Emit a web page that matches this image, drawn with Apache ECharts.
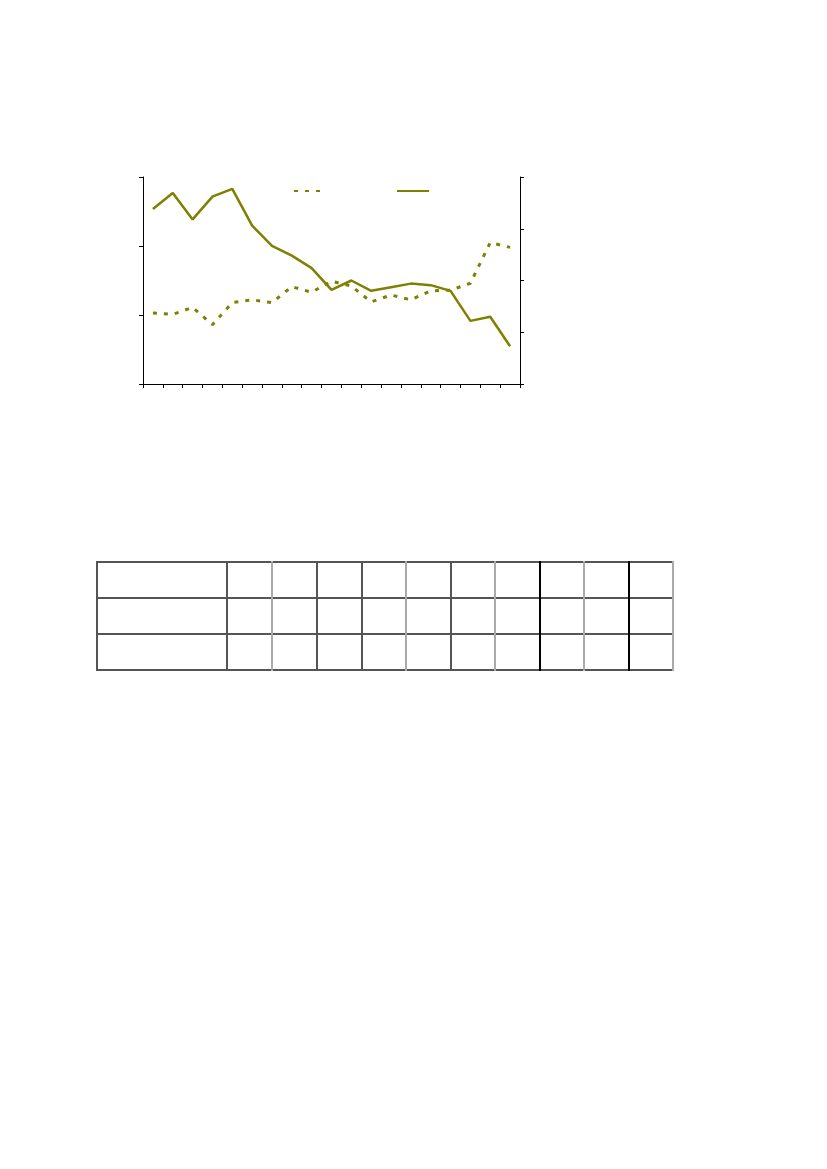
<!DOCTYPE html>
<html>
<head>
<meta charset="utf-8">
<script src="https://cdn.jsdelivr.net/npm/echarts@6/dist/echarts.min.js"></script>
<style>
  html, body { margin: 0; padding: 0; background: #fff; }
  #chart { position: absolute; left: 0; top: 0; width: 827px; height: 1169px; }
  .ln { position: absolute; }
</style>
</head>
<body>
<div id="chart"></div>
<div id="table"></div>
<script>
// 19 periods, no labels shown on the reference
var categories = ['1','2','3','4','5','6','7','8','9','10','11','12','13','14','15','16','17','18','19'];
// dotted series, left axis (0..3)
var dottedValues = [1.03, 1.01, 1.11, 0.86, 1.18, 1.22, 1.18, 1.41, 1.33, 1.49, 1.42, 1.19, 1.29, 1.22, 1.35, 1.36, 1.46, 2.05, 1.98];
// solid series, right axis (0..4)
var solidValues = [3.38, 3.69, 3.18, 3.62, 3.77, 3.06, 2.67, 2.48, 2.24, 1.82, 2.00, 1.80, 1.87, 1.94, 1.91, 1.80, 1.22, 1.30, 0.73];

var olive = '#808000';

var chart = echarts.init(document.getElementById('chart'), null, { renderer: 'canvas' });

var axisBase = {
  axisLine: { show: true, lineStyle: { color: '#000', width: 1 } },
  axisTick: { show: true, length: 4, lineStyle: { color: '#000', width: 1 } },
  axisLabel: { show: false },
  splitLine: { show: false }
};

var legendBase = {
  top: 185, itemWidth: 32, itemHeight: 12,
  itemStyle: { opacity: 0 },
  formatter: function () { return ''; }
};

chart.setOption({
  backgroundColor: '#fff',
  animation: false,
  grid: { left: 143, right: 307, top: 177, bottom: 785, containLabel: false },
  legend: [
    Object.assign({}, legendBase, { data: ['dotted'], left: 288, top: 180 }),
    Object.assign({}, legendBase, { data: ['solid'], left: 391, top: 180 })
  ],
  xAxis: Object.assign({}, axisBase, {
    type: 'category',
    data: categories,
    boundaryGap: true,
    axisTick: { show: true, length: 4, alignWithLabel: false, interval: 0, lineStyle: { color: '#000' } }
  }),
  yAxis: [
    Object.assign({}, axisBase, { type: 'value', min: 0, max: 3, interval: 1, position: 'left' }),
    Object.assign({}, axisBase, { type: 'value', min: 0, max: 4, interval: 1, position: 'right' })
  ],
  series: [
    {
      name: 'dotted',
      type: 'line',
      yAxisIndex: 0,
      data: dottedValues,
      symbol: 'none',
      itemStyle: { color: olive },
      lineStyle: { color: olive, width: 3, type: [4, 7] }
    },
    {
      name: 'solid',
      type: 'line',
      yAxisIndex: 1,
      data: solidValues,
      symbol: 'none',
      itemStyle: { color: olive },
      lineStyle: { color: olive, width: 2.5 }
    }
  ]
});

// empty grid table below the chart
var colLines = [97, 227, 272, 317, 362, 406, 451, 495, 540, 584, 629, 673];
var colColors = ['#555', '#555', '#aaa', '#555', '#555', '#aaa', '#555', '#aaa', '#000', '#aaa', '#000', '#aaa'];
var rowLines = [562, 598, 634, 670];
var tbl = document.getElementById('table');
rowLines.forEach(function (y) {
  var d = document.createElement('div');
  d.className = 'ln';
  d.style.cssText = 'left:97px;top:' + (y - 1) + 'px;width:577px;height:1.5px;background:#555;';
  tbl.appendChild(d);
});
colLines.forEach(function (x, i) {
  var d = document.createElement('div');
  d.className = 'ln';
  d.style.cssText = 'left:' + (x - 1) + 'px;top:561px;width:1.5px;height:110px;background:' + colColors[i] + ';';
  tbl.appendChild(d);
});
</script>
</body>
</html>
